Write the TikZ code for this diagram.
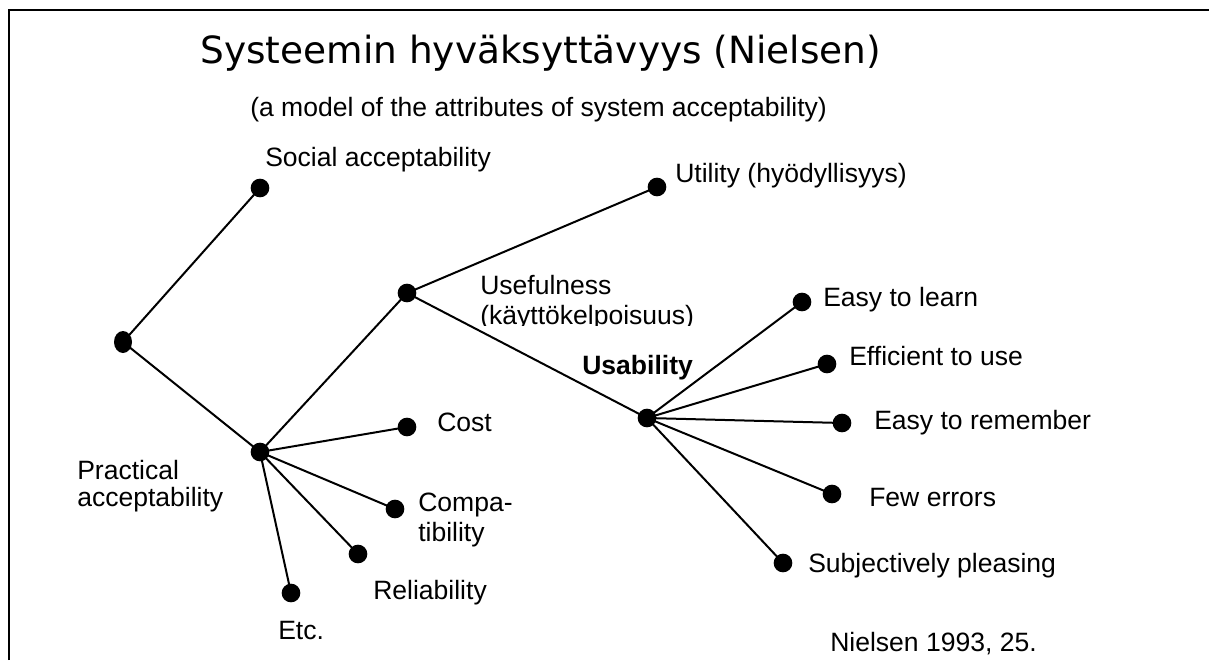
\documentclass[tikz,border=0pt]{standalone}
\usepackage{fontspec}
\setmainfont{Liberation Sans}
\newfontfamily\titlefont{DejaVu Sans}
\usetikzlibrary{shapes.geometric}

\begin{document}
\begin{tikzpicture}[x=0.75pt, y=-0.75pt,
    dot/.style={circle, fill=black, inner sep=0pt, minimum size=14pt},
    lbl/.style={anchor=base west, inner sep=0pt, font=\fontsize{19.9}{22.5}\selectfont},
    twoline/.style={anchor=north west, inner sep=0pt, align=left},
    branch/.style={line width=1.5pt}]
    \useasboundingbox (0,0) rectangle (1209,660);
    % --- Frame (cut off at right and bottom) ---
    \draw[line width=1.9pt] (9,660) -- (9,10) -- (1209,10);

    % --- Titles ---
    \node[lbl, font=\titlefont\fontsize{28.1}{34}\selectfont] (title) at (200,64) {Systeemin hyväksyttävyys (Nielsen)};
    \node[lbl] (subtitle) at (250,116) {(a model of the attributes of system acceptability)};

    % --- Points of the tree ---
    \node[ellipse, fill=black, inner sep=0pt, minimum width=13.5pt, minimum height=16.5pt] (root) at (123,342) {};
    \node[dot] (social) at (260,188) {};
    \node[dot] (practical) at (260,452) {};
    \node[dot] (useful) at (407,293) {};
    \node[dot] (utility) at (657,187) {};
    \node[dot] (usability) at (647,418) {};
    \node[dot] (cost) at (407,427) {};
    \node[dot] (compat) at (395,509) {};
    \node[dot] (reliab) at (358,554) {};
    \node[dot] (etc) at (291,593) {};
    \node[dot] (learn) at (802,302) {};
    \node[dot] (efficient) at (827,364) {};
    \node[dot] (remember) at (842,423) {};
    \node[dot] (errors) at (832,494) {};
    \node[dot] (pleasing) at (783,563) {};

    % --- Branches ---
    \draw[branch] (social.center) -- (root.center) -- (practical.center);
    \draw[branch] (practical.center) -- (useful.center) -- (utility.center);
    \draw[branch] (useful.center) -- (usability.center);
    \foreach \leaf in {cost, compat, reliab, etc}
        \draw[branch] (practical.center) -- (\leaf.center);
    \foreach \leaf in {learn, efficient, remember, errors, pleasing}
        \draw[branch] (usability.center) -- (\leaf.center);

    % --- Labels ---
    \node[lbl] (social-txt) at (265,166) {Social acceptability};
    \node[lbl] (utility-txt) at (675,182) {Utility (hyödyllisyys)};
    % second line is cut off at its baseline
    \begin{scope}
        \clip (470,260) rectangle (720,325);
        \node[twoline, font=\fontsize{19.9}{22.5}\selectfont] (useful-txt) at (480,275) {Usefulness\\(käyttökelpoisuus)};
    \end{scope}
    \node[lbl, font=\fontsize{19.9}{22.5}\selectfont\bfseries] (usability-txt) at (582,374) {Usability};
    \node[twoline, font=\fontsize{19.9}{20.25}\selectfont] (practical-txt) at (77,460) {Practical\\acceptability};
    \node[lbl] (cost-txt) at (437,431) {Cost};
    \node[twoline, font=\fontsize{19.9}{22.5}\selectfont] (compat-txt) at (418,493) {Compa-\\tibility};
    \node[lbl] (reliab-txt) at (373,599) {Reliability};
    \node[lbl] (etc-txt) at (278,639) {Etc.};
    \node[lbl] (learn-txt) at (823,306) {Easy to learn};
    \node[lbl] (efficient-txt) at (849,365) {Efficient to use};
    \node[lbl] (remember-txt) at (874,429) {Easy to remember};
    \node[lbl] (errors-txt) at (869,506) {Few errors};
    \node[lbl] (pleasing-txt) at (808,572) {Subjectively pleasing};
    \node[lbl] (source) at (830,651) {Nielsen 1993, 25.};
\end{tikzpicture}
\end{document}
